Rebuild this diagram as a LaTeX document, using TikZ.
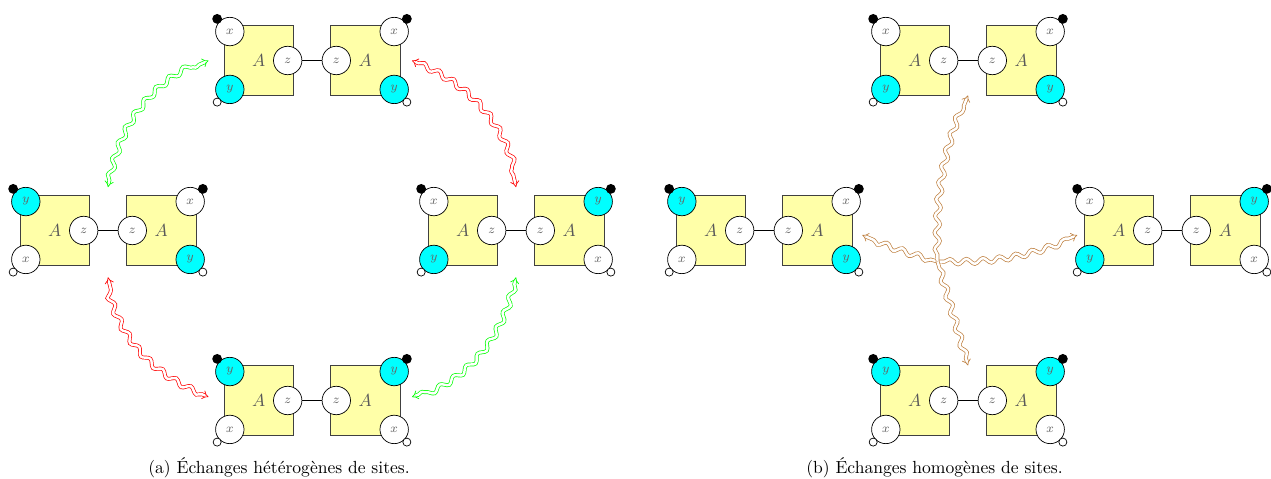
\documentclass[tikz,border=0pt]{standalone}
\usetikzlibrary{positioning,calc,arrows.meta,decorations.pathmorphing}
\definecolor{sitecyan}{RGB}{0,255,255}
\definecolor{monofill}{RGB}{255,255,168}

% one dimer: name, position, sites top-left, bottom-left, top-right, bottom-right
\newcommand{\dimer}[6]{%
  \node[dimbox] (#1) at (#2) {};
  \node[mono] (#1l) at ([xshift=-30.35pt]#1.center) {$A$};
  \node[mono] (#1r) at ([xshift=30.35pt]#1.center) {$A$};
  \node[site#3] (#1tl) at ([shift={(-16.5pt,16.5pt)}]#1l.center) {$#3$};
  \node[site#4] (#1bl) at ([shift={(-16.5pt,-16.5pt)}]#1l.center) {$#4$};
  \node[site#5] (#1tr) at ([shift={(16.5pt,16.5pt)}]#1r.center) {$#5$};
  \node[site#6] (#1br) at ([shift={(16.5pt,-16.5pt)}]#1r.center) {$#6$};
  \node[sitez] (#1zl) at ([xshift=16.5pt]#1l.center) {$z$};
  \node[sitez] (#1zr) at ([xshift=-16.5pt]#1r.center) {$z$};
  \draw[bond] (#1zl) -- (#1zr);
  \node[fulldot] (#1ftl) at ([shift={(135:10.2pt)}]#1tl.center) {};
  \node[fulldot] (#1ftr) at ([shift={(45:10.2pt)}]#1tr.center) {};
  \node[freedot] (#1fbl) at ([shift={(225:10.2pt)}]#1bl.center) {};
  \node[freedot] (#1fbr) at ([shift={(315:10.2pt)}]#1br.center) {};
}

\begin{document}
\begin{tikzpicture}[x=0.57pt,y=0.57pt,
  dimbox/.style={minimum width=110pt,minimum height=49.4pt,inner sep=0pt,outer sep=0pt},
  mono/.style={draw=black!75,fill=monofill,minimum size=39.5pt,inner sep=0pt,text=black!65},
  site/.style={circle,draw,fill=white,minimum size=16.2pt,inner sep=0pt,font=\scriptsize,text=black!60},
  sitex/.style={site},
  sitey/.style={site,fill=sitecyan},
  sitez/.style={site},
  bond/.style={line width=1pt},
  fulldot/.style={circle,fill=black,minimum size=5.6pt,inner sep=0pt},
  freedot/.style={circle,draw,fill=white,minimum size=4.6pt,inner sep=0pt},
  xchg/.style={double=white,double distance=1.4pt,line width=0.4pt,<->,decorate,
    decoration={snake,amplitude=1.5pt,segment length=9.5pt,pre length=4pt,post length=4pt}},
  hop/.style={xchg,->},
  subcap/.style={anchor=base},
  >={Implies[scale=1.5]}]
\useasboundingbox (0,0) rectangle (1271,479);

% (a) heterogeneous exchanges
\dimer{aT}{312,418.5}{x}{y}{x}{y}
\dimer{aL}{108,248.5}{y}{x}{x}{y}
\dimer{aR}{516,248.5}{x}{y}{y}{x}
\dimer{aB}{312,78.5}{y}{x}{y}{x}
\draw[xchg,green] (aL.north) to[bend left=28] ([xshift=-4pt]aT.west);
\draw[xchg,red] ([xshift=2pt]aT.east) to[bend left=28] (aR.north);
\draw[xchg,red] ([shift={(-4pt,2pt)}]aB.west) to[bend left=28] ([yshift=-2pt]aL.south);
\draw[xchg,green] ([yshift=-2pt]aR.south) to[bend left=28] ([shift={(2pt,2pt)}]aB.east);
\node[subcap] (capa) at (279,5.6) {(a) Échanges hétérogènes de sites.};

% (b) homogeneous exchanges
\dimer{bT}{968,418.5}{x}{y}{x}{y}
\dimer{bL}{764,248.5}{y}{x}{x}{y}
\dimer{bR}{1172,248.5}{x}{y}{y}{x}
\dimer{bB}{968,78.5}{y}{x}{y}{x}
\coordinate (hub) at (937.5,217.5);
\draw[hop,brown] (hub) to[bend left=4] ([shift={(1pt,-2.6pt)}]bL.east);
\draw[hop,brown] (hub) to[bend right=12] ([shift={(1pt,-2.6pt)}]bR.west);
\draw[hop,brown] (hub) to[bend left=12] (bT.south |- bTl.south);
\draw[hop,brown] (hub) to (bB.north |- bBl.north);
\node[subcap] (capb) at (934.5,5.6) {(b) Échanges homogènes de sites.};
\end{tikzpicture}
\end{document}
